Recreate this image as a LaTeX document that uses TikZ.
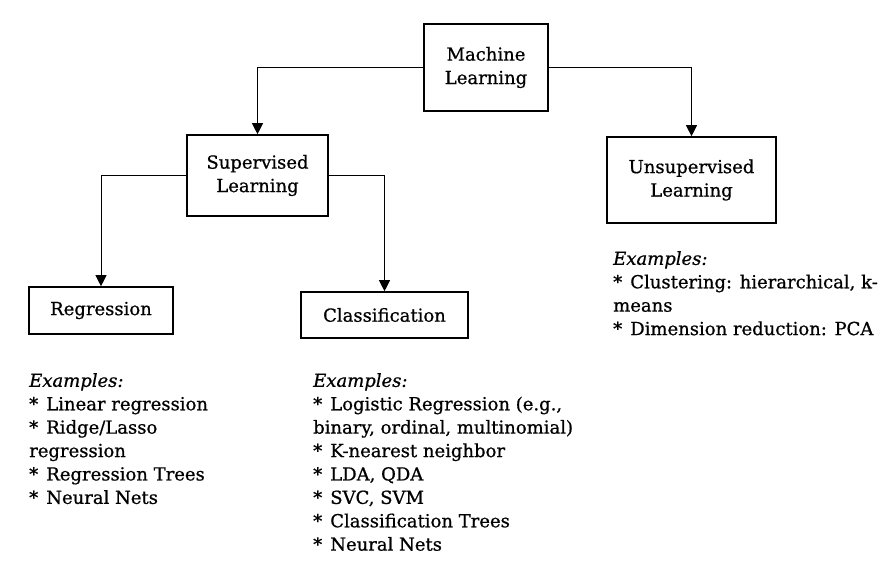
\documentclass[tikz,border=0pt]{standalone}
\usepackage{fontspec}
\setmainfont{DejaVu Serif}[FakeBold=0.7]
\usetikzlibrary{arrows.meta}
\newcommand{\exstar}{*\hspace{0.45em}}
\tikzset{
  box/.style={draw,line width=1.6pt,align=center,inner sep=0pt},
  examples/.style={anchor=north west,align=left,inner sep=0pt},
  arr/.style={-{Triangle[length=11pt,width=11pt]},line width=0.8pt}
}
\begin{document}
\begin{tikzpicture}[x=1pt,y=-1pt,font=\fontsize{18}{23.4}\selectfont]
\useasboundingbox (0,0) rectangle (890,577);
\node[box,minimum width=124pt,minimum height=87pt] (ml) at (486,67.5) {Machine\\Learning};
\node[box,minimum width=141pt,minimum height=81pt] (sup) at (257.5,175.5) {Supervised\\Learning};
\node[box,minimum width=169pt,minimum height=86pt] (unsup) at (691.5,180) {Unsupervised\\Learning};
\node[box,minimum width=144pt,minimum height=47pt] (reg) at (101,310.5) {Regression};
\node[box,minimum width=167pt,minimum height=46pt] (cls) at (384.5,315) {Classification};
% examples under the leaves
\node[examples] (regex) at (29,373) {\textit{Examples:}\\
\exstar Linear regression\\
\exstar Ridge/Lasso\\
regression\\
\exstar Regression Trees\\
\exstar Neural Nets};
\node[examples] (clsex) at (313,373) {\textit{Examples:}\\
\exstar Logistic Regression (e.g.,\\
binary, ordinal, multinomial)\\
\exstar K-nearest neighbor\\
\exstar LDA, QDA\\
\exstar SVC, SVM\\
\exstar Classification Trees\\
\exstar Neural Nets};
\node[examples] (unsupex) at (613,251) {\textit{Examples:}\\
\exstar Clustering: hierarchical, k-\\
means\\
\exstar Dimension reduction: PCA};
\draw[arr] (ml.west) -| (sup.north);
\draw[arr] (ml.east) -| (unsup.north);
\draw[arr] (sup.west) -| (reg.north);
\draw[arr] (sup.east) -| (cls.north);
\end{tikzpicture}
\end{document}
